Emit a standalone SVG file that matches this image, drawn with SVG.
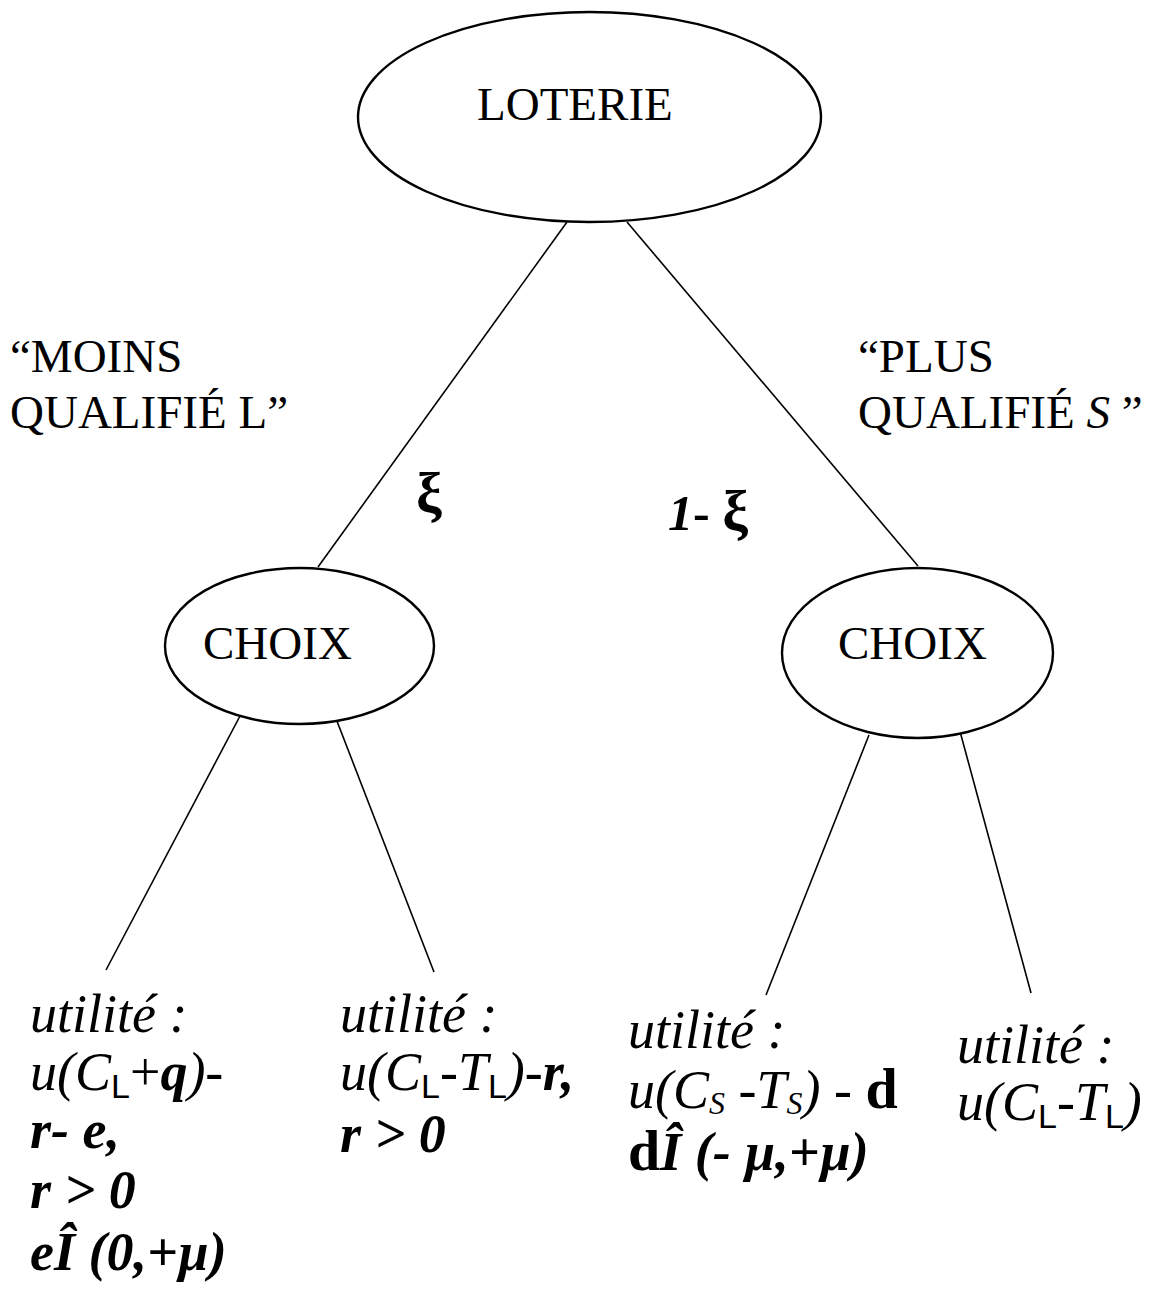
<svg xmlns="http://www.w3.org/2000/svg" width="1157" height="1289" viewBox="0 0 1157 1289">
<style>
.n{fill:#fff;stroke:#000;stroke-width:2.4}
.c line{stroke:#000;stroke-width:1.6}
text{font-family:"Liberation Serif","Times New Roman",serif;fill:#000}
.r{font-size:47px}
.it{font-size:54px;font-style:italic}
.b{font-weight:bold}
.s{font-family:"Liberation Sans",Arial,sans-serif;font-style:normal;font-weight:normal;font-size:34px}
</style>
<rect width="1157" height="1289" fill="#fff"/>
<g class="c" id="connectors">
<line x1="567" y1="222" x2="318" y2="567"/>
<line x1="627" y1="222" x2="918" y2="566"/>
<line x1="240" y1="716" x2="106" y2="970"/>
<line x1="335" y1="716" x2="434" y2="972"/>
<line x1="869" y1="735" x2="766" y2="995"/>
<line x1="955" y1="713" x2="1031" y2="993"/>
</g>
<g id="loterie">
<ellipse class="n" cx="589.5" cy="117" rx="231.5" ry="105"/>
<text class="r" x="477" y="120">LOTERIE</text>
</g>
<g id="choix-left">
<ellipse class="n" cx="299.5" cy="646" rx="134.5" ry="78"/>
<text class="r" x="203" y="659">CHOIX</text>
</g>
<g id="choix-right">
<ellipse class="n" cx="917.5" cy="653" rx="135.5" ry="85"/>
<text class="r" x="838" y="659">CHOIX</text>
</g>
<g id="label-left">
<text class="r" x="10" y="372">“MOINS</text>
<text class="r" x="10" y="428">QUALIFIÉ L”</text>
</g>
<g id="label-right">
<text class="r" x="858" y="372">“PLUS</text>
<text class="r" x="858" y="428">QUALIFIÉ <tspan font-style="italic">S</tspan> ”</text>
</g>
<g id="prob-left"><text class="b" font-size="58" x="416" y="512">ξ</text></g>
<g id="prob-right"><text class="b" font-size="50" x="668" y="530"><tspan font-style="italic">1</tspan>- <tspan font-size="58">ξ</tspan></text></g>
<g id="leaf1">
<text class="it" x="30" y="1032">utilité :</text>
<text class="it" x="30" y="1090">u(C<tspan class="s" dy="8">L</tspan><tspan dy="-8" font-style="normal">+</tspan><tspan class="b">q</tspan>)-</text>
<text class="it b" x="30" y="1148">r- e,</text>
<text class="it b" x="30" y="1208">r &gt; 0</text>
<text class="it b" x="30" y="1270">eÎ (0,+µ)</text>
</g>
<g id="leaf2">
<text class="it" x="340" y="1032">utilité :</text>
<text class="it" x="340" y="1090">u(C<tspan class="s" dy="8">L</tspan><tspan dy="-8">-T</tspan><tspan class="s" dy="8">L</tspan><tspan dy="-8">)-</tspan><tspan class="b">r,</tspan></text>
<text class="it b" x="340" y="1152">r &gt; 0</text>
</g>
<g id="leaf3">
<text class="it" x="628" y="1048">utilité :</text>
<text class="it" x="628" y="1108">u(C<tspan font-size="32" dy="6">S</tspan><tspan dy="-6"> -T</tspan><tspan font-size="32" dy="6">S</tspan><tspan dy="-6">) - </tspan><tspan class="b" font-style="normal" font-size="58">d</tspan></text>
<text class="it b" x="628" y="1170"><tspan font-style="normal" font-size="58">d</tspan>Î (- µ,+µ)</text>
</g>
<g id="leaf4">
<text class="it" x="957" y="1063">utilité :</text>
<text class="it" x="957" y="1120">u(C<tspan class="s" dy="8">L</tspan><tspan dy="-8">-T</tspan><tspan class="s" dy="8">L</tspan><tspan dy="-8">)</tspan></text>
</g>
</svg>
